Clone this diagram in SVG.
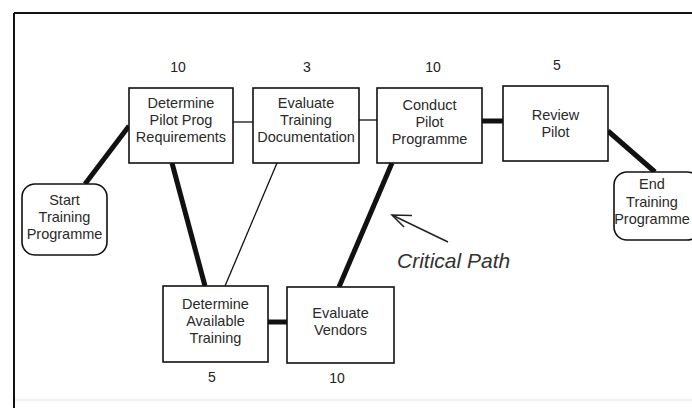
<svg xmlns="http://www.w3.org/2000/svg" width="692" height="408" viewBox="0 0 692 408">
  <style>
    .box { fill: #ffffff; stroke: #111111; stroke-width: 1.6; }
    .lbl { font-family: "Liberation Sans", Arial, sans-serif; font-size: 14.5px; fill: #2a2a2a; text-anchor: middle; }
    .num { font-family: "Liberation Sans", Arial, sans-serif; font-size: 14px; fill: #222222; text-anchor: middle; }
    .thin { stroke: #111111; stroke-width: 1.3; fill: none; }
    .thick { stroke: #111111; stroke-width: 5; fill: none; }
    .note { font-family: "Liberation Sans", Arial, sans-serif; font-size: 21px; font-style: italic; fill: #333333; }
  </style>

  <rect x="0" y="0" width="692" height="408" fill="#ffffff"/>

  <!-- page frame -->
  <g id="frame">
    <line x1="14" y1="13" x2="692" y2="13" stroke="#111111" stroke-width="2"/>
    <line x1="14" y1="13" x2="14" y2="408" stroke="#111111" stroke-width="2"/>
    <line x1="15" y1="400" x2="692" y2="400" stroke="#ececec" stroke-width="1.5"/>
  </g>

  <!-- dependency links -->
  <g id="connectors">
    <line class="thick" x1="85" y1="184" x2="129" y2="126"/>
    <line class="thin" x1="233" y1="122" x2="253" y2="122"/>
    <line class="thin" x1="359" y1="120" x2="377" y2="120"/>
    <line class="thick" x1="482" y1="121" x2="503" y2="121" stroke-width="6"/>
    <line class="thick" x1="608" y1="131" x2="655" y2="172"/>
    <line class="thick" x1="172" y1="163" x2="205" y2="286"/>
    <line class="thin" x1="277" y1="163" x2="225" y2="286"/>
    <line class="thick" x1="268" y1="322" x2="287" y2="322" stroke-width="6"/>
    <line class="thick" x1="339" y1="287" x2="392" y2="163"/>
  </g>

  <g id="start">
    <rect class="box" x="22" y="184" width="85" height="71" rx="13" ry="13"/>
    <text class="lbl" x="64.5" y="205">Start</text>
    <text class="lbl" x="64.5" y="222">Training</text>
    <text class="lbl" x="64.5" y="239">Programme</text>
  </g>

  <g id="pilot-requirements">
    <rect class="box" x="129" y="88" width="104" height="75"/>
    <text class="lbl" x="181" y="108">Determine</text>
    <text class="lbl" x="181" y="125">Pilot Prog</text>
    <text class="lbl" x="181" y="142">Requirements</text>
    <text class="num" x="178" y="72">10</text>
  </g>

  <g id="training-documentation">
    <rect class="box" x="253" y="88" width="106" height="75"/>
    <text class="lbl" x="306" y="108">Evaluate</text>
    <text class="lbl" x="306" y="125">Training</text>
    <text class="lbl" x="306" y="142">Documentation</text>
    <text class="num" x="307" y="72">3</text>
  </g>

  <g id="conduct-pilot">
    <rect class="box" x="377" y="88" width="105" height="75"/>
    <text class="lbl" x="429.5" y="110">Conduct</text>
    <text class="lbl" x="429.5" y="127">Pilot</text>
    <text class="lbl" x="429.5" y="144">Programme</text>
    <text class="num" x="433" y="72">10</text>
  </g>

  <g id="review-pilot">
    <rect class="box" x="503" y="86" width="105" height="75"/>
    <text class="lbl" x="555.5" y="120">Review</text>
    <text class="lbl" x="555.5" y="137">Pilot</text>
    <text class="num" x="557" y="70">5</text>
  </g>

  <g id="end">
    <rect class="box" x="614" y="172" width="86" height="68" rx="13" ry="13"/>
    <text class="lbl" x="652" y="189">End</text>
    <text class="lbl" x="652" y="207">Training</text>
    <text class="lbl" x="652" y="224">Programme</text>
  </g>

  <g id="available-training">
    <rect class="box" x="163" y="286" width="105" height="76"/>
    <text class="lbl" x="215.5" y="309">Determine</text>
    <text class="lbl" x="215.5" y="326">Available</text>
    <text class="lbl" x="215.5" y="343">Training</text>
    <text class="num" x="212" y="382">5</text>
  </g>

  <g id="evaluate-vendors">
    <rect class="box" x="287" y="287" width="107" height="76"/>
    <text class="lbl" x="340.5" y="318">Evaluate</text>
    <text class="lbl" x="340.5" y="335">Vendors</text>
    <text class="num" x="337" y="383">10</text>
  </g>

  <!-- annotation pointing at the critical link -->
  <g id="critical-path-note">
    <line x1="448" y1="242" x2="392" y2="215" stroke="#222222" stroke-width="1.5"/>
    <polyline points="412,215.5 392,215 404,227" fill="none" stroke="#222222" stroke-width="1.5"/>
    <text class="note" x="397" y="268">Critical Path</text>
  </g>
</svg>
